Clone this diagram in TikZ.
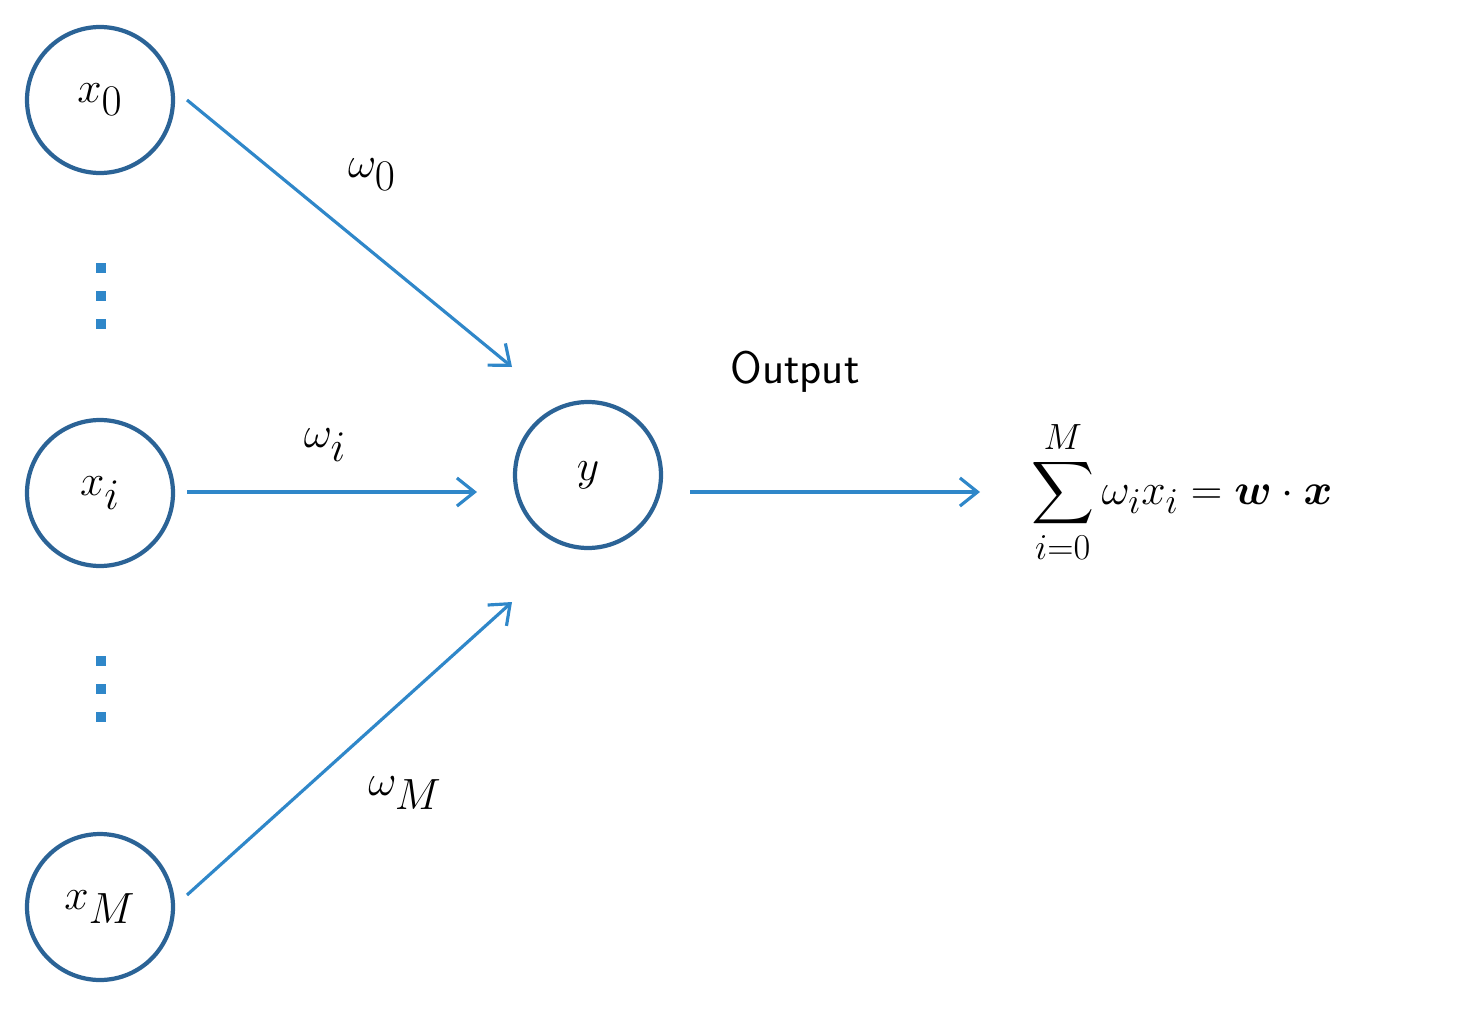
\documentclass[tikz,border=0pt]{standalone}
\usepackage{amsmath,bm}
\usetikzlibrary{arrows.meta}
\definecolor{cdark}{HTML}{2B6396}
\definecolor{clight}{HTML}{2F87C9}
\begin{document}
\begin{tikzpicture}[x=0.02cm,y=-0.02cm,
  neuron/.style={circle,draw=cdark,line width=2.4pt,minimum size=2.92cm,inner sep=0pt,font=\fontsize{36}{40}\selectfont},
  conn/.style={draw=clight,line width=1.8pt,-{Straight Barb[length=10pt,width=16pt,line width=1.8pt]}},
  lab/.style={font=\fontsize{34}{38}\selectfont},
  dot/.style={fill=clight,minimum size=0.2cm,inner sep=0pt}]
\useasboundingbox (0,0) rectangle (1476,1017);
\node[neuron] (x0) at (100,100) {$x_0$};
\node[neuron] (xi) at (100,493) {$x_i$};
\node[neuron] (xM) at (100,907) {$x_M$};
\node[neuron] (y) at (588,475) {$y$};
\coordinate (s0) at (187,100);
\coordinate (si) at (187,492);
\coordinate (sM) at (187,895);
\coordinate (a0) at (512,367);
\coordinate (ai) at (477,492);
\coordinate (aM) at (512,602);
\coordinate (os) at (690,492);
\coordinate (oe) at (980,492);
\draw[conn] (s0) -- (a0);
\draw[conn] (si) -- (ai);
\draw[conn] (sM) -- (aM);
\draw[conn] (os) -- (oe);
\node[lab] (w0) at (372,175) {$\omega_0$};
\node[lab] (wi) at (325,445) {$\omega_i$};
\node[lab] (wM) at (405,793) {$\omega_M$};
\node[font=\sffamily\fontsize{26}{30}\selectfont] (out) at (795,372) {Output};
\node[font=\fontsize{30}{34}\selectfont,anchor=west] (f) at (1025,492) {$\displaystyle\sum_{i=0}^{M}\omega_i x_i=\bm{w}\cdot\bm{x}$};
\foreach \yy [count=\k] in {268,296,324,661,689,717}{
  \node[dot] (d\k) at (101,\yy) {};
}
\end{tikzpicture}
\end{document}
